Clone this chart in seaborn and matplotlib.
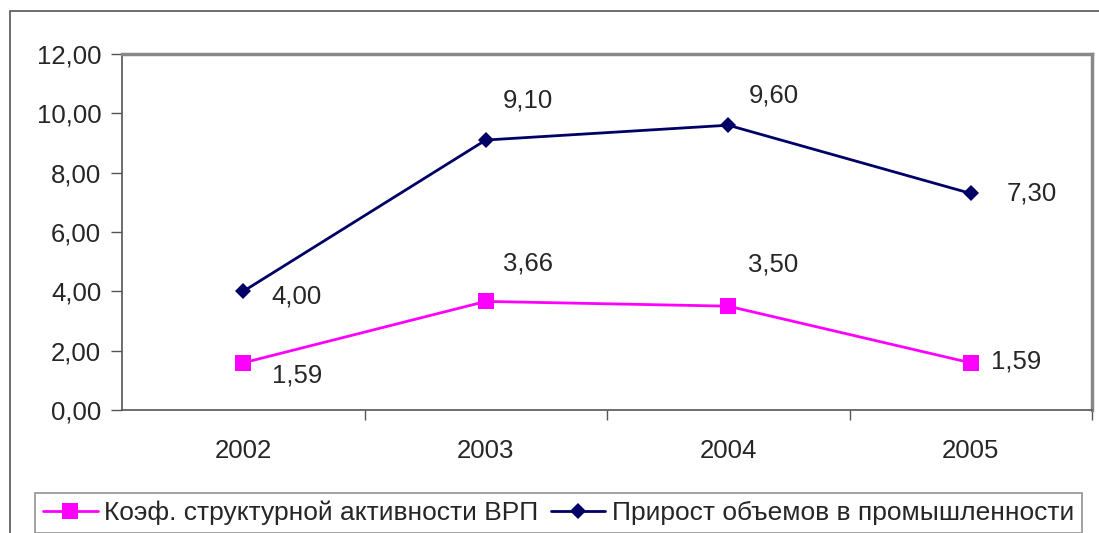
import pandas as pd
import seaborn as sns
import matplotlib.pyplot as plt
from matplotlib.patches import Rectangle
from matplotlib.ticker import FuncFormatter

years = ["2002", "2003", "2004", "2005"]
koef_vrp = [1.59, 3.66, 3.50, 1.59]
prirost = [4.00, 9.10, 9.60, 7.30]
series_names = ["Коэф. структурной активности ВРП", "Прирост объемов в промышленности"]

sns.set_style("white")
plt.rcParams["font.family"] = ["Liberation Sans", "DejaVu Sans"]

fig = plt.figure(figsize=(10.99, 5.33), dpi=100)
ax = fig.add_axes([122 / 1099, 1 - 410 / 533, 970 / 1099, 356 / 533])

# outer chart frame (cut off at right and bottom, like the screenshot)
fig.patches.append(Rectangle((10 / 1099, -0.2), 1.2, 1.2 - 11 / 533,
                             transform=fig.transFigure, fill=False,
                             edgecolor="#555555", linewidth=1.2))

df_pink = pd.DataFrame({"year": years, "value": koef_vrp})
df_navy = pd.DataFrame({"year": years, "value": prirost})

sns.lineplot(data=df_pink, x="year", y="value", ax=ax, color="#FF00FF",
             linewidth=2, marker="s", markersize=11, markeredgewidth=0,
             label=series_names[0])
sns.lineplot(data=df_navy, x="year", y="value", ax=ax, color="#000066",
             linewidth=2, marker="D", markersize=8, markeredgewidth=0,
             label=series_names[1])

# data labels (offsets in pixels, as placed in the original)
fs = 18.5
pink_off = [(29, -13), (17, 38), (20, 42), (20, 1)]
navy_off = [(28, -5), (17, 40), (20, 30), (36, 0)]
for i, v in enumerate(koef_vrp):
    ax.annotate(f"{v:.2f}".replace(".", ","), (i, v), textcoords="offset pixels",
                xytext=pink_off[i], ha="left", va="center", fontsize=fs)
for i, v in enumerate(prirost):
    ax.annotate(f"{v:.2f}".replace(".", ","), (i, v), textcoords="offset pixels",
                xytext=navy_off[i], ha="left", va="center", fontsize=fs)

ax.set_xlim(-0.5, 3.5)
ax.set_ylim(0, 12)
ax.set_yticks(range(0, 13, 2))
ax.yaxis.set_major_formatter(FuncFormatter(lambda y, _: f"{y:.2f}".replace(".", ",")))
ax.set_xticks(range(len(years)))
ax.set_xticklabels(years)
ax.set_xticks([0.5, 1.5, 2.5, 3.5], minor=True)
ax.tick_params(axis="x", which="major", length=0, pad=21, labelsize=fs)
ax.tick_params(axis="x", which="minor", length=7, color="#555555", width=1)
ax.tick_params(axis="y", length=8, color="#555555", width=1, labelsize=fs, pad=7)
ax.tick_params(left=True, bottom=True, which="both")
ax.set_xlabel("")
ax.set_ylabel("")

for side in ["top", "right"]:
    ax.spines[side].set_color("#888888")
    ax.spines[side].set_linewidth(2.5)
for side in ["left", "bottom"]:
    ax.spines[side].set_color("#555555")
    ax.spines[side].set_linewidth(1.2)

leg = ax.legend(loc="upper left", bbox_to_anchor=(35 / 1099, 1 - 493 / 533),
                bbox_transform=fig.transFigure, ncol=2, fontsize=19.0,
                frameon=True, fancybox=False, handlelength=2.08,
                handletextpad=0.25, columnspacing=0.45, borderpad=0.3,
                borderaxespad=0)
leg.get_frame().set_edgecolor("#777777")
leg.get_frame().set_linewidth(1.2)

fig.savefig("out.png", dpi=100)
